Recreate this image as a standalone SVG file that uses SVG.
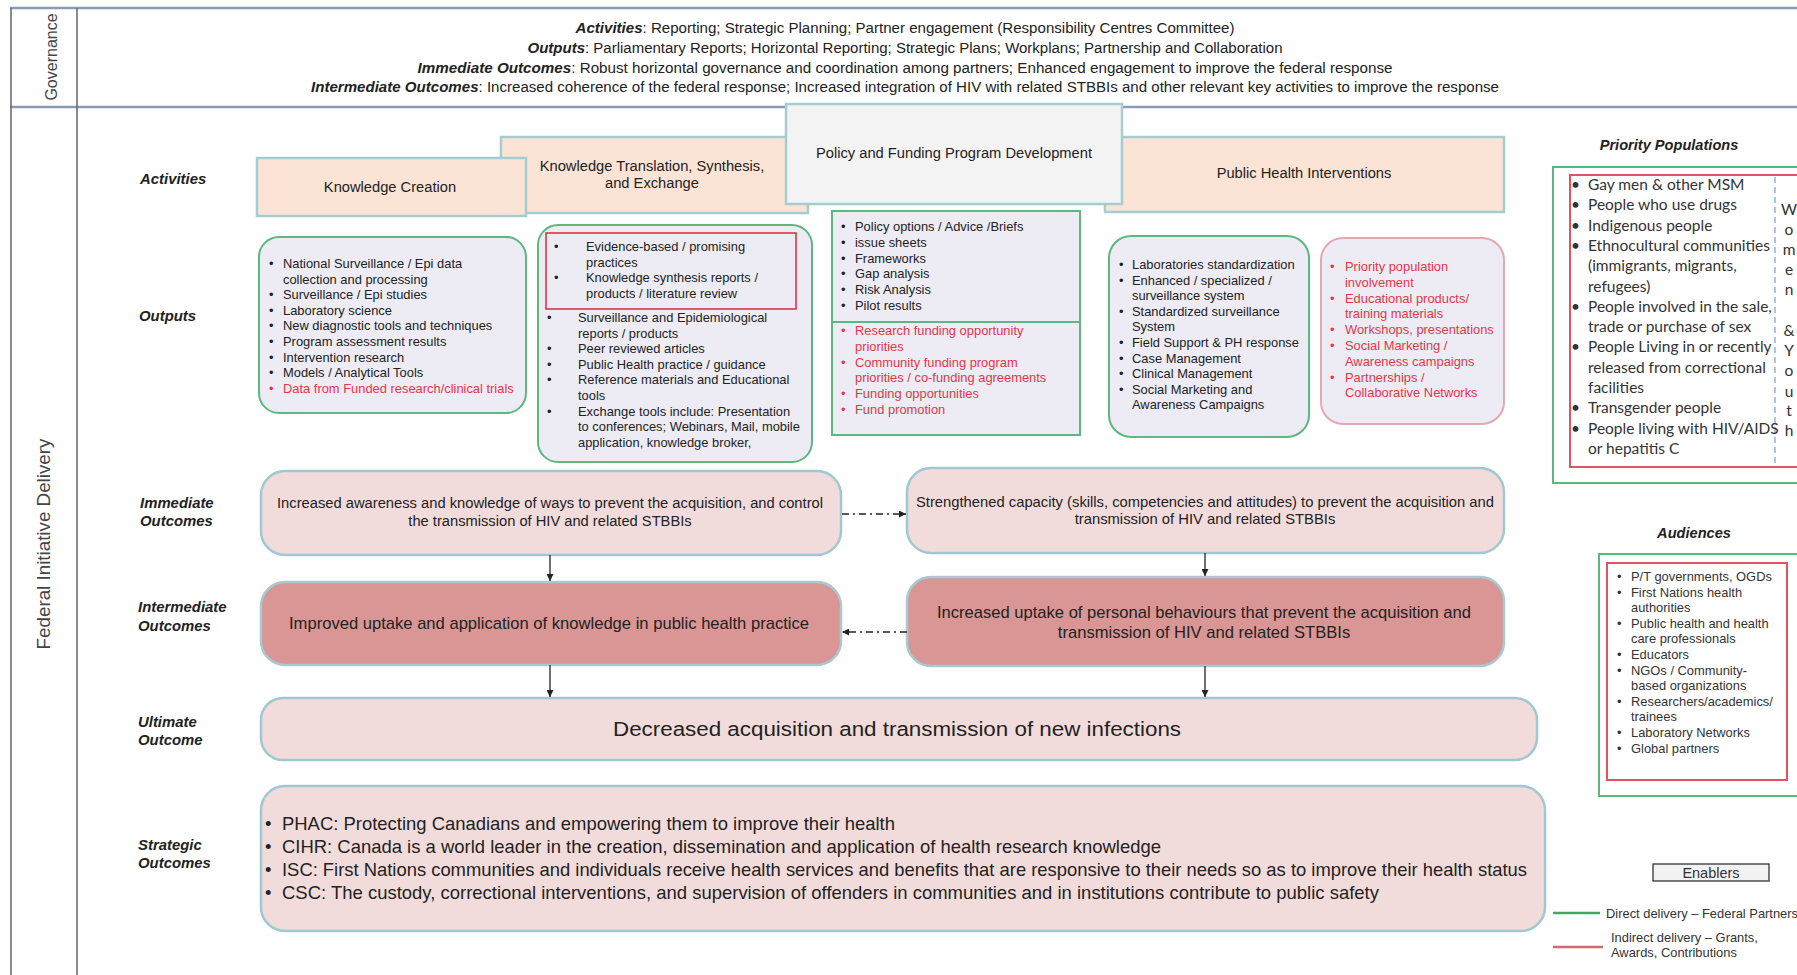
<svg xmlns="http://www.w3.org/2000/svg" width="1797" height="975" viewBox="0 0 1797 975">
<style>
text{font-family:"Liberation Sans",Arial,sans-serif;fill:#222}
.lbl{font-weight:bold;font-style:italic;font-size:14.9px}
.gl{font-weight:bold;font-style:italic}
.gov{font-size:14px}
.act{font-size:14.7px;text-anchor:middle}
.o{font-size:12.9px}
.r{fill:#e8344a}
.pp{font-family:Lato,"Open Sans",sans-serif;font-size:15.5px;fill:#333}
.au{font-size:12.9px;fill:#333}
.ctr{text-anchor:middle}
.actbox{fill:#fbe4d5;stroke:#a3cdd3;stroke-width:2.5}
.outbox{fill:#edecf4;stroke:#5cb87c;stroke-width:2}
.outred{fill:#edecf4;stroke:#e3a9b0;stroke-width:2}
.light{fill:#f2dcdb;stroke:#9fc8d2;stroke-width:2.5}
.dark{fill:#d99694;stroke:#a6c9d2;stroke-width:2.5}
.frame{stroke:#8a9bb8;stroke-width:2.5;fill:none}
.vline{stroke:#666;stroke-width:1.5;fill:none}
.conn{stroke:#222;stroke-width:1.3;fill:none}
.dd{stroke-dasharray:7 4 2 4}
.st{font-size:18.4px}
</style>
<defs>
<marker id="ah" viewBox="0 0 10 10" refX="10" refY="5" markerWidth="7" markerHeight="7" orient="auto" markerUnits="userSpaceOnUse">
<path d="M0,0 L10,5 L0,10 z" fill="#222"/>
</marker>
</defs>
<rect width="1797" height="975" fill="#ffffff"/>

<g id="frame">
<line class="frame" x1="10" y1="8" x2="1797" y2="8"/>
<line class="frame" x1="10" y1="107" x2="1797" y2="107"/>
<line class="vline" x1="11" y1="8" x2="11" y2="975"/>
<line class="vline" x1="77" y1="8" x2="77" y2="975"/>
<text transform="translate(57,57) rotate(-90)" class="ctr" style="font-size:16px;fill:#444">Governance</text>
<text transform="translate(50,544) rotate(-90)" class="ctr" style="font-size:18.8px;fill:#444">Federal Initiative Delivery</text>
</g>

<g id="governance">
<text class="gov ctr" x="905" y="32.5" textLength="659" lengthAdjust="spacingAndGlyphs"><tspan class="gl">Activities</tspan>:  Reporting; Strategic Planning; Partner engagement (Responsibility Centres Committee)</text>
<text class="gov ctr" x="905" y="53" textLength="755" lengthAdjust="spacingAndGlyphs"><tspan class="gl">Outputs</tspan>:  Parliamentary Reports; Horizontal Reporting; Strategic Plans; Workplans; Partnership and Collaboration</text>
<text class="gov ctr" x="905" y="72.5" textLength="975" lengthAdjust="spacingAndGlyphs"><tspan class="gl">Immediate Outcomes</tspan>:  Robust horizontal governance and coordination among partners;  Enhanced engagement to improve the federal response</text>
<text class="gov ctr" x="905" y="92" textLength="1188" lengthAdjust="spacingAndGlyphs"><tspan class="gl">Intermediate Outcomes</tspan>:  Increased coherence of the federal response; Increased integration of HIV with related STBBIs and other relevant key activities to improve the response</text>
</g>

<g id="row-labels">
<text class="lbl" x="140" y="184">Activities</text>
<text class="lbl" x="139" y="321">Outputs</text>
<text class="lbl" x="140" y="508">Immediate</text>
<text class="lbl" x="140" y="526">Outcomes</text>
<text class="lbl" x="138" y="612">Intermediate</text>
<text class="lbl" x="138" y="631">Outcomes</text>
<text class="lbl" x="138" y="727">Ultimate</text>
<text class="lbl" x="138" y="745">Outcome</text>
<text class="lbl" x="138" y="850">Strategic</text>
<text class="lbl" x="138" y="868">Outcomes</text>
</g>

<g id="act-kt">
<rect class="actbox" x="501" y="137" width="307" height="76"/>
<text class="act" x="652" y="171">Knowledge Translation, Synthesis,</text>
<text class="act" x="652" y="188">and Exchange</text>
</g>
<g id="act-phi">
<rect class="actbox" x="1105" y="137" width="399" height="75"/>
<text class="act" x="1304" y="178">Public Health Interventions</text>
</g>
<g id="act-kc">
<rect class="actbox" x="257" y="158" width="269" height="58"/>
<text class="act" x="390" y="192">Knowledge Creation</text>
</g>
<g id="act-policy">
<rect x="786" y="104" width="336" height="100" fill="#f3f3f3" stroke="#a3cdd3" stroke-width="2.5"/>
<text class="act" x="954" y="158">Policy and Funding Program Development</text>
</g>

<g id="out-kc">
<rect class="outbox" x="259" y="237" width="267" height="176" rx="20"/>
<g class="o">
<text x="269" y="268">•</text><text x="283" y="268">National Surveillance / Epi data</text>
<text x="283" y="283.6">collection and processing</text>
<text x="269" y="299.2">•</text><text x="283" y="299.2">Surveillance / Epi studies</text>
<text x="269" y="314.8">•</text><text x="283" y="314.8">Laboratory science</text>
<text x="269" y="330.4">•</text><text x="283" y="330.4">New diagnostic tools and techniques</text>
<text x="269" y="346">•</text><text x="283" y="346">Program assessment results</text>
<text x="269" y="361.6">•</text><text x="283" y="361.6">Intervention research</text>
<text x="269" y="377.2">•</text><text x="283" y="377.2">Models / Analytical Tools</text>
<text x="269" y="392.8" class="r">•</text><text x="283" y="392.8" class="r">Data from Funded research/clinical trials</text>
</g>
</g>

<g id="out-kt">
<rect class="outbox" x="538" y="225" width="274" height="237" rx="20"/>
<rect x="546" y="233" width="250" height="76" fill="none" stroke="#e03444" stroke-width="1.6"/>
<g class="o">
<text x="554" y="251">•</text><text x="586" y="251">Evidence-based / promising</text>
<text x="586" y="266.5">practices</text>
<text x="554" y="282">•</text><text x="586" y="282">Knowledge synthesis reports /</text>
<text x="586" y="297.5">products / literature review</text>
<text x="547" y="322">•</text><text x="578" y="322">Surveillance and Epidemiological</text>
<text x="578" y="337.6">reports / products</text>
<text x="547" y="353.2">•</text><text x="578" y="353.2">Peer reviewed articles</text>
<text x="547" y="368.8">•</text><text x="578" y="368.8">Public Health practice / guidance</text>
<text x="547" y="384.4">•</text><text x="578" y="384.4">Reference materials and Educational</text>
<text x="578" y="400">tools</text>
<text x="547" y="415.6">•</text><text x="578" y="415.6">Exchange tools include: Presentation</text>
<text x="578" y="431.2">to conferences; Webinars, Mail, mobile</text>
<text x="578" y="446.8">application, knowledge broker,</text>
</g>
</g>

<g id="out-policy">
<rect class="outbox" x="832" y="211" width="248" height="224"/>
<line x1="832" y1="322" x2="1080" y2="322" stroke="#5cb87c" stroke-width="2"/>
<g class="o">
<text x="841" y="231">•</text><text x="855" y="231">Policy options / Advice /Briefs</text>
<text x="841" y="246.8">•</text><text x="855" y="246.8">issue sheets</text>
<text x="841" y="262.6">•</text><text x="855" y="262.6">Frameworks</text>
<text x="841" y="278.4">•</text><text x="855" y="278.4">Gap analysis</text>
<text x="841" y="294.2">•</text><text x="855" y="294.2">Risk Analysis</text>
<text x="841" y="310">•</text><text x="855" y="310">Pilot results</text>
<text x="841" y="335" class="r">•</text><text x="855" y="335" class="r">Research funding opportunity</text>
<text x="855" y="350.8" class="r">priorities</text>
<text x="841" y="366.6" class="r">•</text><text x="855" y="366.6" class="r">Community funding program</text>
<text x="855" y="382.4" class="r">priorities / co-funding agreements</text>
<text x="841" y="398.2" class="r">•</text><text x="855" y="398.2" class="r">Funding opportunities</text>
<text x="841" y="414" class="r">•</text><text x="855" y="414" class="r">Fund promotion</text>
</g>
</g>

<g id="out-phi">
<rect class="outbox" x="1109" y="236" width="200" height="201" rx="22"/>
<g class="o">
<text x="1119" y="269">•</text><text x="1132" y="269">Laboratories standardization</text>
<text x="1119" y="284.6">•</text><text x="1132" y="284.6">Enhanced / specialized /</text>
<text x="1132" y="300.2">surveillance system</text>
<text x="1119" y="315.8">•</text><text x="1132" y="315.8">Standardized surveillance</text>
<text x="1132" y="331.4">System</text>
<text x="1119" y="347">•</text><text x="1132" y="347">Field Support &amp; PH response</text>
<text x="1119" y="362.6">•</text><text x="1132" y="362.6">Case Management</text>
<text x="1119" y="378.2">•</text><text x="1132" y="378.2">Clinical Management</text>
<text x="1119" y="393.8">•</text><text x="1132" y="393.8">Social Marketing and</text>
<text x="1132" y="409.4">Awareness Campaigns</text>
</g>
</g>

<g id="out-phi-indirect">
<rect class="outred" x="1321" y="238" width="183" height="186" rx="22"/>
<g class="o">
<text x="1330" y="271" class="r">•</text><text x="1345" y="271" class="r">Priority population</text>
<text x="1345" y="286.8" class="r">involvement</text>
<text x="1330" y="302.6" class="r">•</text><text x="1345" y="302.6" class="r">Educational products/</text>
<text x="1345" y="318.4" class="r">training materials</text>
<text x="1330" y="334.2" class="r">•</text><text x="1345" y="334.2" class="r">Workshops, presentations</text>
<text x="1330" y="350" class="r">•</text><text x="1345" y="350" class="r">Social Marketing /</text>
<text x="1345" y="365.8" class="r">Awareness campaigns</text>
<text x="1330" y="381.6" class="r">•</text><text x="1345" y="381.6" class="r">Partnerships /</text>
<text x="1345" y="397.4" class="r">Collaborative Networks</text>
</g>
</g>

<g id="imm-left">
<rect class="light" x="261" y="471" width="580" height="84" rx="24"/>
<text class="ctr" x="550" y="508" style="font-size:14.7px" textLength="546" lengthAdjust="spacingAndGlyphs">Increased awareness and knowledge of ways to prevent the acquisition, and control</text>
<text class="ctr" x="550" y="526" style="font-size:14.7px">the transmission of HIV and related STBBIs</text>
</g>
<g id="imm-right">
<rect class="light" x="907" y="468" width="597" height="85" rx="24"/>
<text class="ctr" x="1205" y="506.5" style="font-size:14.8px" textLength="578" lengthAdjust="spacingAndGlyphs">Strengthened capacity (skills, competencies and attitudes) to prevent the acquisition and</text>
<text class="ctr" x="1205" y="523.5" style="font-size:14.8px">transmission of HIV and related STBBIs</text>
</g>
<g id="int-left">
<rect class="dark" x="261" y="582" width="580" height="83" rx="24"/>
<text class="ctr" x="549" y="629" style="font-size:16.6px" textLength="520" lengthAdjust="spacingAndGlyphs">Improved uptake and application of knowledge in public health practice</text>
</g>
<g id="int-right">
<rect class="dark" x="907" y="577" width="597" height="89" rx="24"/>
<text class="ctr" x="1204" y="618" style="font-size:16.6px" textLength="534" lengthAdjust="spacingAndGlyphs">Increased uptake of personal behaviours that prevent the acquisition and</text>
<text class="ctr" x="1204" y="638" style="font-size:16.6px">transmission of HIV and related STBBIs</text>
</g>
<g id="ultimate">
<rect class="light" x="261" y="698" width="1276" height="62" rx="22"/>
<text x="613" y="736" style="font-size:20px" textLength="568" lengthAdjust="spacingAndGlyphs">Decreased acquisition and transmission of new  infections</text>
</g>
<g id="strategic">
<rect class="light" x="261" y="786" width="1284" height="145" rx="24"/>
<text class="st" x="265" y="830">•</text><text class="st" x="282" y="830" textLength="613" lengthAdjust="spacingAndGlyphs">PHAC: Protecting Canadians and empowering them to improve their health</text>
<text class="st" x="265" y="853">•</text><text class="st" x="282" y="853" textLength="879" lengthAdjust="spacingAndGlyphs">CIHR: Canada is a world leader in the creation, dissemination and application of health research knowledge</text>
<text class="st" x="265" y="876">•</text><text class="st" x="282" y="876" textLength="1245" lengthAdjust="spacingAndGlyphs">ISC: First Nations communities and individuals receive health services and benefits that are responsive to their needs so as to improve their health status</text>
<text class="st" x="265" y="899">•</text><text class="st" x="282" y="899" textLength="1097" lengthAdjust="spacingAndGlyphs">CSC: The custody, correctional interventions, and supervision of offenders in communities and in institutions contribute to public safety</text>
</g>

<g id="connectors">
<line class="conn" x1="550" y1="555" x2="550" y2="581" marker-end="url(#ah)"/>
<line class="conn" x1="1205" y1="553" x2="1205" y2="576" marker-end="url(#ah)"/>
<line class="conn" x1="550" y1="665" x2="550" y2="697" marker-end="url(#ah)"/>
<line class="conn" x1="1205" y1="666" x2="1205" y2="697" marker-end="url(#ah)"/>
<line class="conn dd" x1="842" y1="514" x2="906" y2="514" marker-end="url(#ah)"/>
<line class="conn dd" x1="907" y1="632" x2="842" y2="632" marker-end="url(#ah)"/>
</g>

<g id="priority-populations">
<text class="lbl ctr" x="1669" y="150" style="font-size:14.6px">Priority Populations</text>
<rect x="1553" y="167" width="260" height="316" fill="none" stroke="#5cb87c" stroke-width="2"/>
<rect x="1570" y="175" width="240" height="292" fill="none" stroke="#e05462" stroke-width="2"/>
<line x1="1775" y1="177" x2="1775" y2="465" stroke="#7a9fd0" stroke-width="1.2" stroke-dasharray="6 4"/>
<text class="pp" x="1571" y="190">•</text><text class="pp" x="1588" y="190">Gay men &amp; other MSM</text>
<text class="pp" x="1571" y="210.3">•</text><text class="pp" x="1588" y="210.3">People who use drugs</text>
<text class="pp" x="1571" y="230.6">•</text><text class="pp" x="1588" y="230.6">Indigenous people</text>
<text class="pp" x="1571" y="250.9">•</text><text class="pp" x="1588" y="250.9">Ethnocultural communities</text>
<text class="pp" x="1588" y="271.2">(immigrants, migrants,</text>
<text class="pp" x="1588" y="291.5">refugees)</text>
<text class="pp" x="1571" y="311.8">•</text><text class="pp" x="1588" y="311.8">People involved in the sale,</text>
<text class="pp" x="1588" y="332.1">trade or purchase of sex</text>
<text class="pp" x="1571" y="352.4">•</text><text class="pp" x="1588" y="352.4">People Living in or recently</text>
<text class="pp" x="1588" y="372.7">released from correctional</text>
<text class="pp" x="1588" y="393">facilities</text>
<text class="pp" x="1571" y="413.3">•</text><text class="pp" x="1588" y="413.3">Transgender people</text>
<text class="pp" x="1571" y="433.6">•</text><text class="pp" x="1588" y="433.6">People living with HIV/AIDS</text>
<text class="pp" x="1588" y="453.9">or hepatitis C</text>
<text class="pp ctr" x="1789" y="215">W</text>
<text class="pp ctr" x="1789" y="235">o</text>
<text class="pp ctr" x="1789" y="255">m</text>
<text class="pp ctr" x="1789" y="275">e</text>
<text class="pp ctr" x="1789" y="295">n</text>
<text class="pp ctr" x="1789" y="336">&amp;</text>
<text class="pp ctr" x="1789" y="356">Y</text>
<text class="pp ctr" x="1789" y="376">o</text>
<text class="pp ctr" x="1789" y="397">u</text>
<text class="pp ctr" x="1789" y="416">t</text>
<text class="pp ctr" x="1789" y="436">h</text>
</g>

<g id="audiences">
<text class="lbl ctr" x="1694" y="538" style="font-size:14.6px">Audiences</text>
<rect x="1599" y="554" width="210" height="242" fill="none" stroke="#5cb87c" stroke-width="2"/>
<rect x="1607" y="563" width="180" height="217" fill="none" stroke="#e05462" stroke-width="2"/>
<text class="au" x="1617" y="581">•</text><text class="au" x="1631" y="581">P/T governments, OGDs</text>
<text class="au" x="1617" y="596.6">•</text><text class="au" x="1631" y="596.6">First Nations health</text>
<text class="au" x="1631" y="612.2">authorities</text>
<text class="au" x="1617" y="627.8">•</text><text class="au" x="1631" y="627.8">Public health and health</text>
<text class="au" x="1631" y="643.4">care professionals</text>
<text class="au" x="1617" y="659">•</text><text class="au" x="1631" y="659">Educators</text>
<text class="au" x="1617" y="674.6">•</text><text class="au" x="1631" y="674.6">NGOs / Community-</text>
<text class="au" x="1631" y="690.2">based organizations</text>
<text class="au" x="1617" y="705.8">•</text><text class="au" x="1631" y="705.8">Researchers/academics/</text>
<text class="au" x="1631" y="721.4">trainees</text>
<text class="au" x="1617" y="737">•</text><text class="au" x="1631" y="737">Laboratory Networks</text>
<text class="au" x="1617" y="752.6">•</text><text class="au" x="1631" y="752.6">Global partners</text>
</g>

<g id="legend">
<rect x="1653" y="864" width="116" height="17" fill="#f2f2f2" stroke="#333" stroke-width="1.3"/>
<text class="ctr" x="1711" y="877.5" style="font-size:14.5px;fill:#333">Enablers</text>
<line x1="1553" y1="913" x2="1600" y2="913" stroke="#3caa66" stroke-width="2.5"/>
<text class="au" x="1606" y="917.5">Direct delivery – Federal Partners</text>
<line x1="1553" y1="947" x2="1603" y2="947" stroke="#d06a6e" stroke-width="2.5"/>
<text class="au" x="1611" y="942">Indirect delivery – Grants,</text>
<text class="au" x="1611" y="957">Awards,  Contributions</text>
</g>
</svg>
